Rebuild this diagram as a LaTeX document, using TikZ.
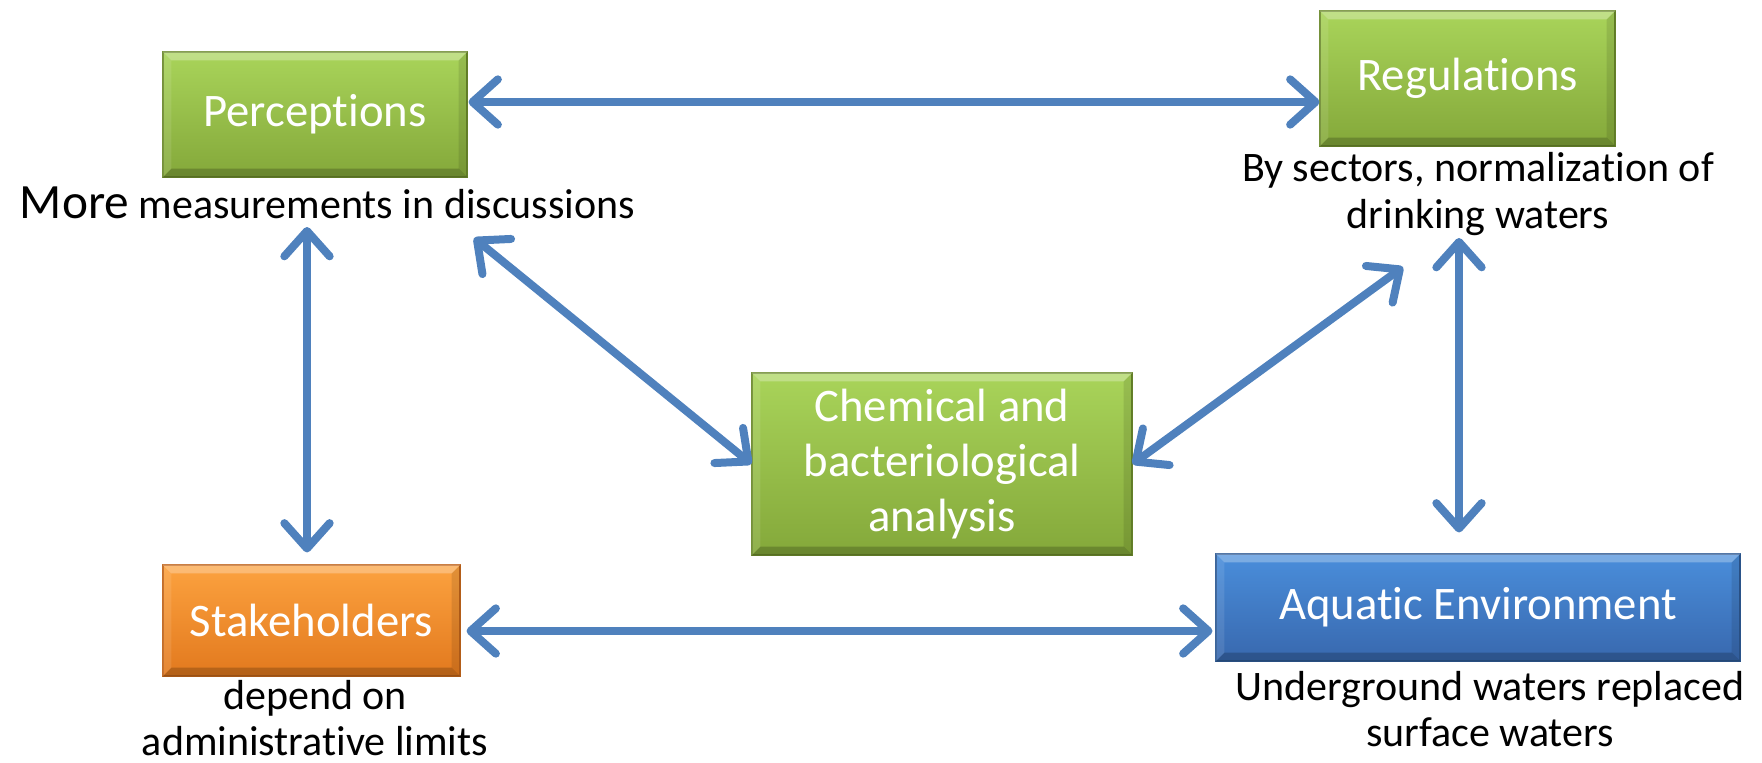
\documentclass[tikz,border=0pt]{standalone}
\usepackage{fontspec}
\setmainfont{Carlito}[Ligatures=NoCommon]
\usetikzlibrary{arrows.meta}
\definecolor{arrowblue}{HTML}{4F81BD}
\definecolor{greenT}{HTML}{A9D45A}
\definecolor{greenB}{HTML}{84A83A}
\definecolor{greenD}{HTML}{6C8A2C}
\definecolor{orangeT}{HTML}{FCA23F}
\definecolor{orangeB}{HTML}{E2791E}
\definecolor{orangeD}{HTML}{C0641A}
\definecolor{blueT}{HTML}{4A8EDB}
\definecolor{blueB}{HTML}{3868AE}
\definecolor{blueD}{HTML}{2E5A94}
\newcommand\bevelbox[1]{%
  \fill[white,opacity=0.28] (#1.north west) -- (#1.north east) -- ([shift={(-9,9)}]#1.north east) -- ([shift={(9,9)}]#1.north west) -- cycle;
  \fill[white,opacity=0.10] (#1.north west) -- ([shift={(9,9)}]#1.north west) -- ([shift={(9,-9)}]#1.south west) -- (#1.south west) -- cycle;
  \fill[black,opacity=0.10] (#1.north east) -- ([shift={(-9,9)}]#1.north east) -- ([shift={(-9,-9)}]#1.south east) -- (#1.south east) -- cycle;
  \fill[black,opacity=0.20] (#1.south west) -- ([shift={(9,-9)}]#1.south west) -- ([shift={(-9,-9)}]#1.south east) -- (#1.south east) -- cycle;
}
\tikzset{
  box/.style={rectangle, inner sep=0pt, align=center, text=white, line width=0.8pt,
    font=\fontsize{35}{41}\selectfont},
  greenbox/.style={box, top color=greenT, bottom color=greenB, draw=greenD},
  orangebox/.style={box, top color=orangeT, bottom color=orangeB, draw=orangeD},
  bluebox/.style={box, top color=blueT, bottom color=blueB, draw=blueD},
  captxt/.style={inner sep=0pt, align=center, text=black, font=\fontsize{31.5}{35}\selectfont},
  link/.style={draw=arrowblue, line width=6pt, line cap=round,
    {Straight Barb[length=19pt,width=34pt,round]}-{Straight Barb[length=19pt,width=34pt,round]}}
}
\begin{document}
\begin{tikzpicture}[x=0.75pt,y=-0.75pt]
\useasboundingbox (0,0) rectangle (1762,763);
% boxes
\node[greenbox, minimum width=228pt, minimum height=93.75pt] (perc) at (315,114.5) {Perceptions};
\node[greenbox, minimum width=221.25pt, minimum height=101.25pt] (reg) at (1467.5,78.5) {Regulations};
\node[greenbox, minimum width=285pt, minimum height=136.5pt] (chem) at (942,464) {Chemical and\\bacteriological\\analysis};
\node[orangebox, minimum width=222.75pt, minimum height=83.25pt] (stake) at (311.5,620.5) {Stakeholders};
\node[bluebox, minimum width=393pt, minimum height=80.25pt] (aqua) at (1478,607.5) {Aquatic Environment};
\bevelbox{perc}
\bevelbox{reg}
\bevelbox{chem}
\bevelbox{stake}
\bevelbox{aqua}
% captions
\node[captxt] (perccap) at (327.5,203) {{\fontsize{37}{40}\selectfont More} measurements in discussions};
\node[captxt] (regcap) at (1478,194) {By sectors, normalization of\\drinking waters};
\node[captxt] (stakecap) at (315,718) {depend on\\administrative limits};
\node[captxt] (aquacap) at (1490,709) {Underground waters replaced\\surface waters};
% free ends
\coordinate (pv) at (307,227);
\coordinate (pd) at (474,238);
\coordinate (rd) at (1403,267);
\coordinate (rv) at (1459,238);
% connectors
\draw[link] ([shift={(1,-12.5)}]perc.east) -- ([shift={(0,23.5)}]reg.west);
\draw[link] (pv) -- ([shift={(-4.5,-12)}]stake.north);
\draw[link] (pd) -- (chem.west);
\draw[link] (chem.east) -- (rd);
\draw[link] (rv) -- ([shift={(-19,-21)}]aqua.north);
\draw[link] ([shift={(6,10.5)}]stake.east) -- ([shift={(-3,23.5)}]aqua.west);
\end{tikzpicture}
\end{document}
